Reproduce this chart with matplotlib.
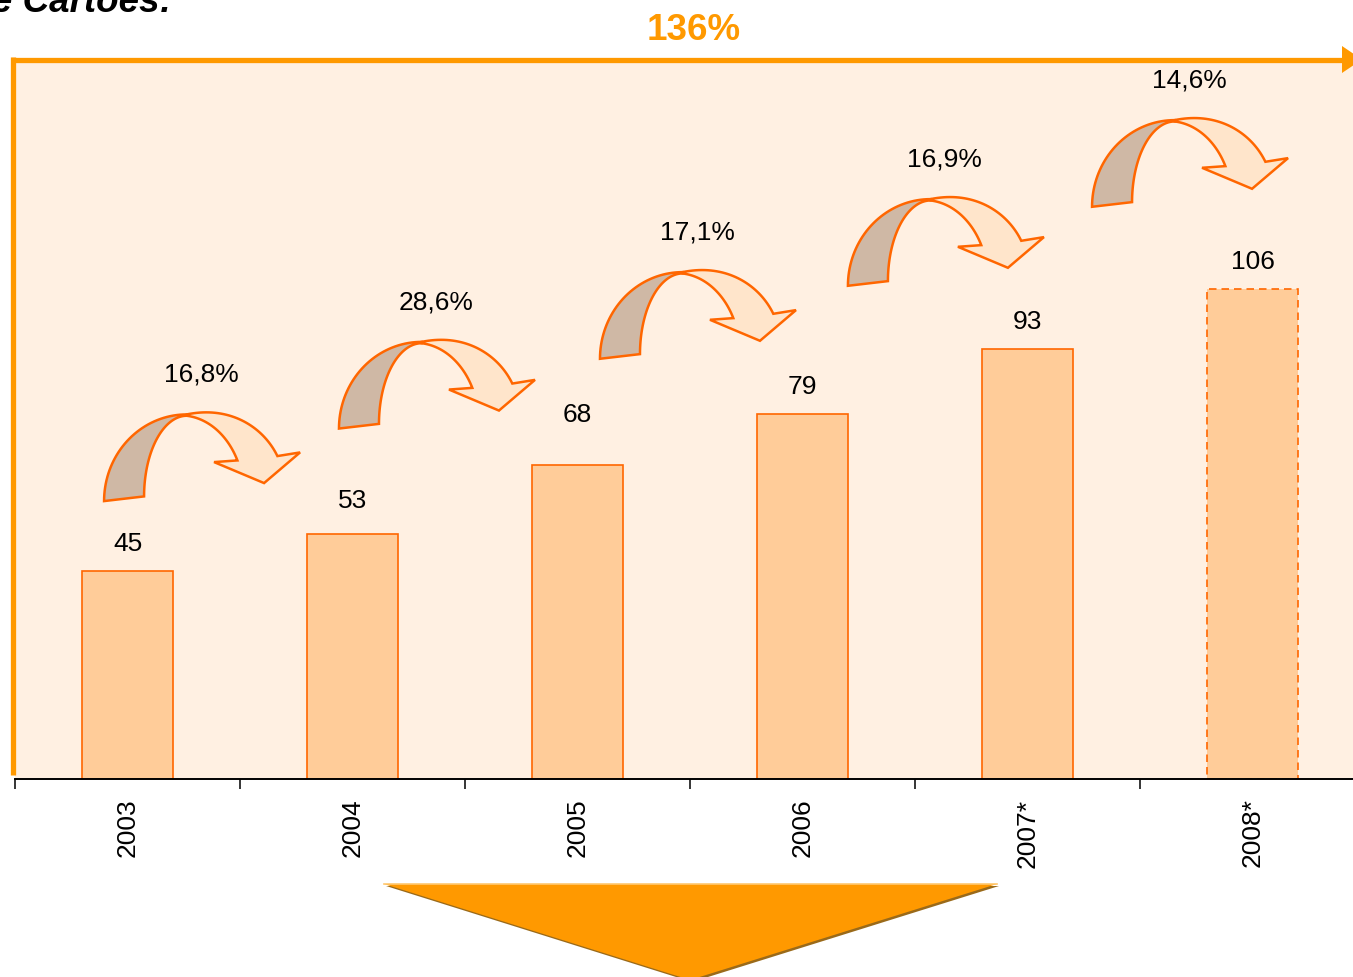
import numpy as np
import matplotlib
matplotlib.use("Agg")
import matplotlib.pyplot as plt
from matplotlib.patches import Polygon
from matplotlib.transforms import Affine2D, ScaledTranslation

plt.rcParams['font.family'] = ['Liberation Sans', 'DejaVu Sans']

# data
years = ['2003', '2004', '2005', '2006', '2007*', '2008*']
values = [45, 53, 68, 79, 93, 106]
growth = ['16,8%', '28,6%', '17,1%', '16,9%', '14,6%']
total_growth = '136%'

# layout: growth label centres (data coords), arrows hang below them
growth_xy = [(0.327, 87.5), (1.371, 103.2), (2.531, 118.3), (3.633, 134.1), (4.718, 151.2)]
# extra lift (points) of some value labels, as in the original slide
label_lift = [0, 4, 16.5, 0, 0.5, 0]

W, H = 1353, 977
fig = plt.figure(figsize=(W / 100, H / 100), dpi=100)
fig.patch.set_facecolor('white')

# axes: x px 15..1353, y px 60..779
ax = fig.add_axes([15 / W, (H - 779) / H, 1338 / W, 719 / H])
ax.set_facecolor('#FFF0E2')

bar_face = '#FFCC99'
edge = '#FF6600'
bars = ax.bar(range(len(values)), values, width=0.405, color=bar_face,
              edgecolor=edge, linewidth=1.2, zorder=2)
bars[-1].set_linestyle((0, (4.5, 3)))

for i, v in enumerate(values):
    ax.annotate(str(v), (i, v), xytext=(0, 14.5 + label_lift[i]), textcoords='offset points',
                ha='center', va='baseline', fontsize=19, color='black')


# curved arrow shape, drawn in 3x pixel units (y down), then shifted to label centre
def ell(cx, cy, rx, ry, a0, a1, n=40):
    t = np.radians(np.linspace(a0, a1, n))
    return np.column_stack([cx + rx * np.cos(t), cy - ry * np.sin(t)])


def bez(p0, p1, p2, p3, n=40):
    t = np.linspace(0, 1, n)[:, None]
    p0, p1, p2, p3 = map(np.array, (p0, p1, p2, p3))
    return (1 - t) ** 3 * p0 + 3 * (1 - t) ** 2 * t * p1 + 3 * (1 - t) * t ** 2 * p2 + t ** 3 * p3


dark = np.vstack([ell(290, 322, 248, 260, 180, 90),
                  ell(290, 308, 128, 242, 90, 180)])
light = np.vstack([bez((290, 62), (420, 35), (520, 100), (562, 187)),
                   [(630, 176), (522, 268), (372, 205)],
                   bez((442, 200), (415, 130), (360, 75), (290, 66))])
dark = dark / 3 + (-111, 19)
light = light / 3 + (-111, 19)

for (lx, ly), g in zip(growth_xy, growth):
    ax.text(lx, ly, g, ha='center', va='center', fontsize=19, color='black', zorder=4)
    trans = Affine2D().scale(1, -1) + ScaledTranslation(lx, ly, ax.transData)
    for pts, fc in [(dark, '#CFB8A5'), (light, '#FFE5CB')]:
        p = Polygon(pts, closed=True, facecolor=fc, edgecolor=edge,
                    linewidth=1.8, joinstyle='miter', transform=trans, zorder=3)
        ax.add_patch(p)

ax.set_xlim(-0.5, -0.5 + 1338 / 225)
ax.set_ylim(0, 719 / 4.62)

for s in ['top', 'right', 'left']:
    ax.spines[s].set_visible(False)
ax.spines['bottom'].set_color('black')
ax.spines['bottom'].set_linewidth(1.4)
ax.spines['bottom'].set_zorder(5)

ax.set_yticks([])
ax.set_xticks(range(len(years)))
ax.set_xticklabels(years, rotation=90, fontsize=19)
ax.tick_params(axis='x', which='major', length=0, pad=14)
ax.set_xticks(np.arange(len(years)) - 0.5, minor=True)
ax.tick_params(axis='x', which='minor', length=7, width=1.1, color='black')

# orange frame lines with arrow on top
orange = '#FF9900'
fig.add_artist(plt.Line2D([12.5 / W, 12.5 / W], [1 - 775 / H, 1 - 57 / H],
                          color=orange, linewidth=3.8, solid_capstyle='butt'))
fig.add_artist(plt.Line2D([10.5 / W, 1343 / W], [1 - 59.5 / H, 1 - 59.5 / H],
                          color=orange, linewidth=3.8, solid_capstyle='butt'))
fig.add_artist(Polygon([(1342 / W, 1 - 46 / H), (1342 / W, 1 - 73 / H), (1362 / W, 1 - 59.5 / H)],
                       closed=True, facecolor=orange, edgecolor='none', transform=fig.transFigure))

fig.text(694 / W, 1 - 40 / H, total_growth, ha='center', va='baseline', fontsize=26.5,
         fontweight='bold', color=orange)

fig.text(172 / W, 1 - 11.5 / H, 'Evolução do Número de Cartões:', ha='right', va='baseline',
         fontsize=26.5, fontweight='bold', fontstyle='italic', color='black')


# big down triangle below the axis
def fpt(x, y):
    return (x / W, 1 - y / H)


fig.add_artist(Polygon([fpt(386, 886), fpt(999, 886), fpt(692, 982)], closed=True,
                       facecolor='#9A6A1A', edgecolor='none', transform=fig.transFigure))
fig.add_artist(Polygon([fpt(384, 884), fpt(997, 884), fpt(690, 980)], closed=True,
                       facecolor=orange, edgecolor='none', transform=fig.transFigure))
fig.add_artist(plt.Line2D([384 / W, 997 / W], [1 - 884 / H, 1 - 884 / H],
                          color='#FFC870', linewidth=1.2))

fig.savefig('out.png', dpi=100, facecolor='white')
